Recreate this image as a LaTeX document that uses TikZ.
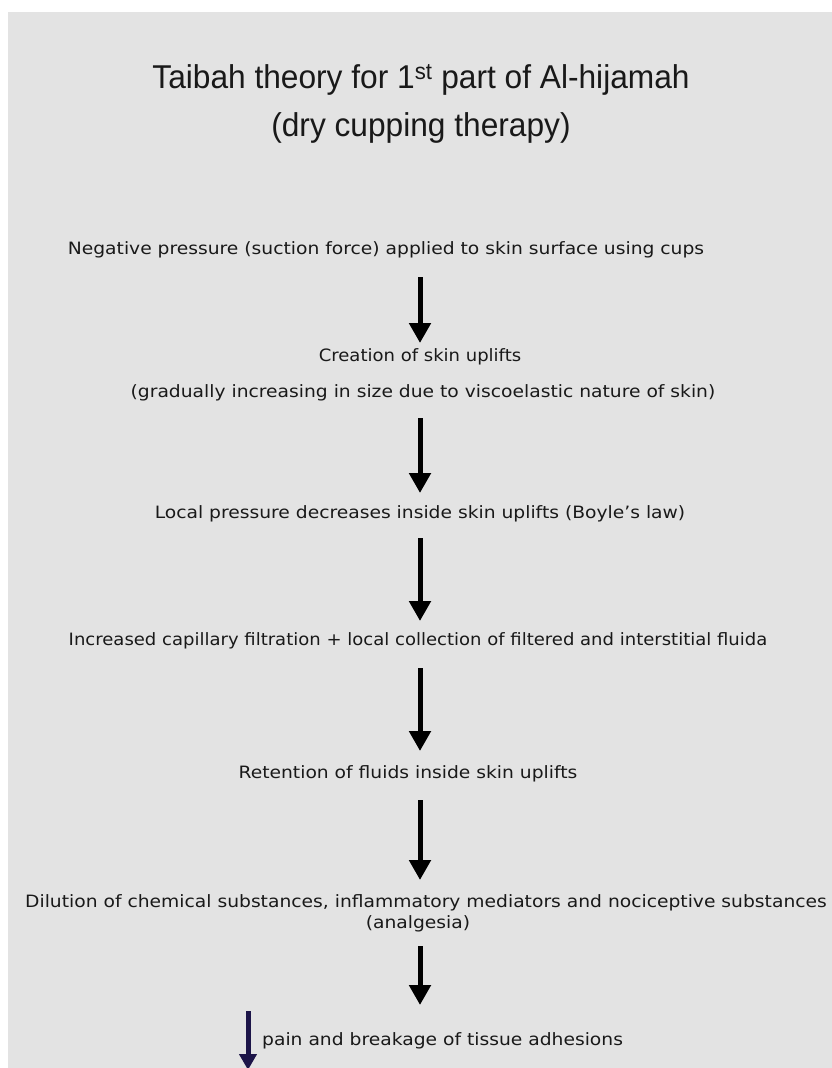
\documentclass[tikz,border=0pt]{standalone}
\usepackage{fontspec}
\setmainfont{DejaVu Sans}
\newfontfamily\titlefont{Liberation Sans}
\usetikzlibrary{arrows.meta}
\definecolor{bggray}{HTML}{E3E3E3}
\definecolor{navy}{HTML}{1C1448}
\newcommand{\wtxt}[2][1.1]{\scalebox{#1}[1]{#2}}
\newcommand{\ttxt}[1]{\scalebox{0.96}[1]{#1}}
\tikzset{
  txt/.style={inner sep=0pt, font=\fontsize{17}{20}\selectfont, text=black!90, anchor=center},
  ttl/.style={inner sep=0pt, font=\titlefont\fontsize{33}{38}\selectfont, text=black!90, anchor=center},
  flow/.style={line width=5pt, -{Triangle[width=21pt,length=20pt]}, black},
  down/.style={line width=5pt, -{Triangle[width=17pt,length=16pt]}, navy}
}
\begin{document}
\begin{tikzpicture}[x=1pt,y=-1pt]
\useasboundingbox (0,0) rectangle (832,1068);
\fill[white] (0,0) rectangle (832,1068);
\fill[bggray] (8,12) rectangle (832,1068);
% title
\node[ttl] (t1) at (421,80) {\ttxt{Taibah theory for 1\textsuperscript{st} part of Al-hijamah}};
\node[ttl] (t2) at (421,128) {\ttxt{(dry cupping therapy)}};
% steps
\node[txt] (n1) at (386,250) {\wtxt{Negative pressure (suction force) applied to skin surface using cups}};
\node[txt] (n2a) at (420,357) {\wtxt[1.06]{Creation of skin uplifts}};
\node[txt] (n2b) at (423,393) {\wtxt{(gradually increasing in size due to viscoelastic nature of skin)}};
\node[txt] (n3) at (420,514) {\wtxt{Local pressure decreases inside skin uplifts (Boyle's law)}};
\node[txt] (n4) at (418,641) {\wtxt[1.06]{Increased capillary filtration + local collection of filtered and interstitial fluida}};
\node[txt] (n5) at (408,774) {\wtxt{Retention of fluids inside skin uplifts}};
\node[txt] (n6a) at (426,903) {\wtxt{Dilution of chemical substances, inflammatory mediators and nociceptive substances}};
\node[txt] (n6b) at (418,924) {\wtxt{(analgesia)}};
\node[txt, anchor=west] (n7) at (262,1041) {\wtxt{pain and breakage of tissue adhesions}};
% arrow ends
\coordinate (a1s) at (420,277); \coordinate (a1e) at (420,343);
\coordinate (a2s) at (420,418); \coordinate (a2e) at (420,493);
\coordinate (a3s) at (420,538); \coordinate (a3e) at (420,621);
\coordinate (a4s) at (420,668); \coordinate (a4e) at (420,751);
\coordinate (a5s) at (420,800); \coordinate (a5e) at (420,880);
\coordinate (a6s) at (420,946); \coordinate (a6e) at (420,1005);
\coordinate (bds) at (248,1011); \coordinate (bde) at (248,1070);
\draw[flow] (a1s) -- (a1e);
\draw[flow] (a2s) -- (a2e);
\draw[flow] (a3s) -- (a3e);
\draw[flow] (a4s) -- (a4e);
\draw[flow] (a5s) -- (a5e);
\draw[flow] (a6s) -- (a6e);
\draw[down] (bds) -- (bde);
\end{tikzpicture}
\end{document}
